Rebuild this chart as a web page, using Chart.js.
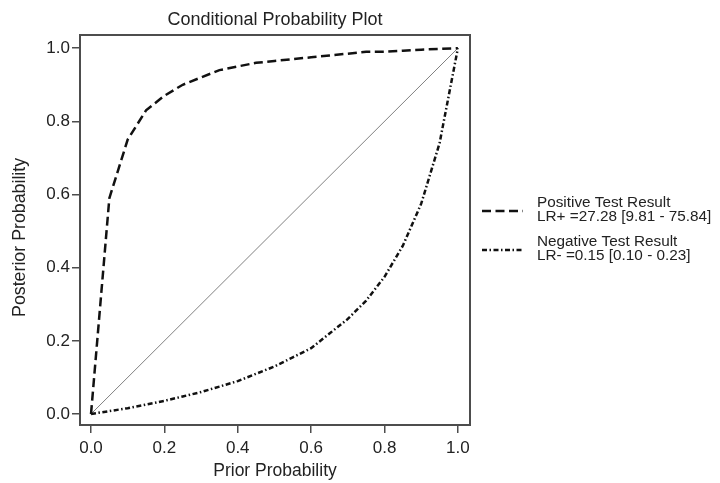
<!DOCTYPE html>
<html>
<head>
<meta charset="utf-8">
<script src="https://cdn.jsdelivr.net/npm/chart.js@4"></script>
<style>
  html, body { margin: 0; padding: 0; background: #fff; }
  #wrap { width: 720px; height: 483px; }
</style>
</head>
<body>
<div id="wrap"><canvas id="grafico" width="720" height="483"></canvas></div>
<script>
// Probabilidad previa (eje x)
const previa = [0, 0.05, 0.1, 0.15, 0.2, 0.25, 0.3, 0.35, 0.4, 0.45, 0.5,
  0.55, 0.6, 0.65, 0.7, 0.75, 0.8, 0.85, 0.9, 0.95, 1];
// Posterior con resultado positivo
const posteriorPositiva = [0, 0.59, 0.75, 0.83, 0.87, 0.90, 0.92, 0.94, 0.95, 0.96, 0.965,
  0.97, 0.975, 0.98, 0.985, 0.99, 0.99, 0.993, 0.996, 0.998, 1];
// Posterior con resultado negativo
const posteriorNegativa = [0, 0.008, 0.016, 0.026, 0.036, 0.048, 0.06, 0.075, 0.09, 0.11, 0.13,
  0.155, 0.18, 0.22, 0.26, 0.31, 0.375, 0.46, 0.575, 0.74, 1];
// Diagonal de referencia
const diagonalX = [0, 1];
const diagonalY = [0, 1];

const ticksX = [0, 0.2, 0.4, 0.6, 0.8, 1.0];
const ticksY = [0, 0.2, 0.4, 0.6, 0.8, 1.0];

const textoLeyenda = [
  ["Positive Test Result", "LR+ =27.28 [9.81 - 75.84]"],
  ["Negative Test Result", "LR- =0.15 [0.10 - 0.23]"]
];

const fuente = "'Liberation Sans', Arial, sans-serif";
const gris = "#4d4d4d";

const puntos = (xs, ys) => xs.map((x, i) => ({ x: x, y: ys[i] }));

// Marco alrededor del área del gráfico
const marco = {
  id: "marco",
  beforeDatasetsDraw(chart) {
    const { ctx, chartArea: a } = chart;
    ctx.save();
    ctx.strokeStyle = gris;
    ctx.lineWidth = 2;
    ctx.strokeRect(a.left, a.top, a.right - a.left, a.bottom - a.top);
    ctx.restore();
  }
};

// Leyenda a la derecha
const leyenda = {
  id: "leyenda",
  afterDraw(chart) {
    const ctx = chart.ctx;
    const muestras = [chart.data.datasets[0], chart.data.datasets[1]];
    const posY = [203, 242];
    ctx.save();
    muestras.forEach((ds, i) => {
      const y0 = posY[i];
      ctx.strokeStyle = ds.borderColor;
      ctx.lineWidth = ds.borderWidth;
      ctx.setLineDash(ds.borderDash);
      ctx.beginPath();
      ctx.moveTo(482, y0 + 8);
      ctx.lineTo(523, y0 + 8);
      ctx.stroke();
      ctx.setLineDash([]);
      ctx.fillStyle = "#222";
      ctx.font = "15.3px " + fuente;
      ctx.textBaseline = "middle";
      ctx.textAlign = "left";
      ctx.fillText(textoLeyenda[i][0], 537, y0);
      ctx.fillText(textoLeyenda[i][1], 537, y0 + 14);
    });
    ctx.restore();
  }
};

new Chart(document.getElementById("grafico"), {
  type: "scatter",
  data: {
    datasets: [{
      label: "Positive Test Result",
      data: puntos(previa, posteriorPositiva),
      showLine: true,
      borderColor: "#111",
      borderWidth: 2.5,
      borderDash: [9, 4.5],
      pointRadius: 0,
      tension: 0
    }, {
      label: "Negative Test Result",
      data: puntos(previa, posteriorNegativa),
      showLine: true,
      borderColor: "#111",
      borderWidth: 2.5,
      borderDash: [5, 2.5, 1.5, 2.5],
      pointRadius: 0,
      tension: 0
    }, {
      label: "Diagonal",
      data: puntos(diagonalX, diagonalY),
      showLine: true,
      borderColor: "#808080",
      borderWidth: 1,
      pointRadius: 0
    }]
  },
  options: {
    responsive: false,
    animation: false,
    layout: { padding: { left: 0, right: 250, top: 0, bottom: 0 } },
    plugins: {
      legend: { display: false },
      tooltip: { enabled: false },
      title: {
        display: true,
        text: "Conditional Probability Plot",
        fullSize: false,
        color: "#222",
        font: { family: fuente, size: 18, weight: "normal" },
        padding: { top: 9, bottom: 4.4 }
      }
    },
    scales: {
      x: {
        type: "linear",
        min: -0.03,
        max: 1.033,
        afterBuildTicks: (s) => { s.ticks = ticksX.map(v => ({ value: v })); },
        afterFit: (s) => { s.height = 58; },
        border: { display: false },
        grid: { drawOnChartArea: false, drawTicks: true, tickLength: 8, color: gris, lineWidth: 1.5 },
        ticks: {
          color: "#222",
          padding: 5,
          maxRotation: 0,
          font: { family: fuente, size: 17 },
          callback: (v) => Number(v).toFixed(1)
        },
        title: {
          display: true,
          text: "Prior Probability",
          color: "#222",
          font: { family: fuente, size: 17.5 },
          padding: { top: 0, bottom: 1.5 }
        }
      },
      y: {
        type: "linear",
        min: -0.03,
        max: 1.036,
        afterBuildTicks: (s) => { s.ticks = ticksY.map(v => ({ value: v })); },
        afterFit: (s) => { s.width = 80; },
        border: { display: false },
        grid: { drawOnChartArea: false, drawTicks: true, tickLength: 8, color: gris, lineWidth: 1.5 },
        ticks: {
          color: "#222",
          padding: 2,
          font: { family: fuente, size: 17 },
          callback: (v) => Number(v).toFixed(1)
        },
        title: {
          display: true,
          // espacios finales para bajar el texto como en el original
          text: "Posterior Probability   ",
          color: "#222",
          font: { family: fuente, size: 17.8 },
          padding: { top: 9, bottom: 0 }
        }
      }
    }
  },
  plugins: [marco, leyenda]
});
</script>
</body>
</html>
